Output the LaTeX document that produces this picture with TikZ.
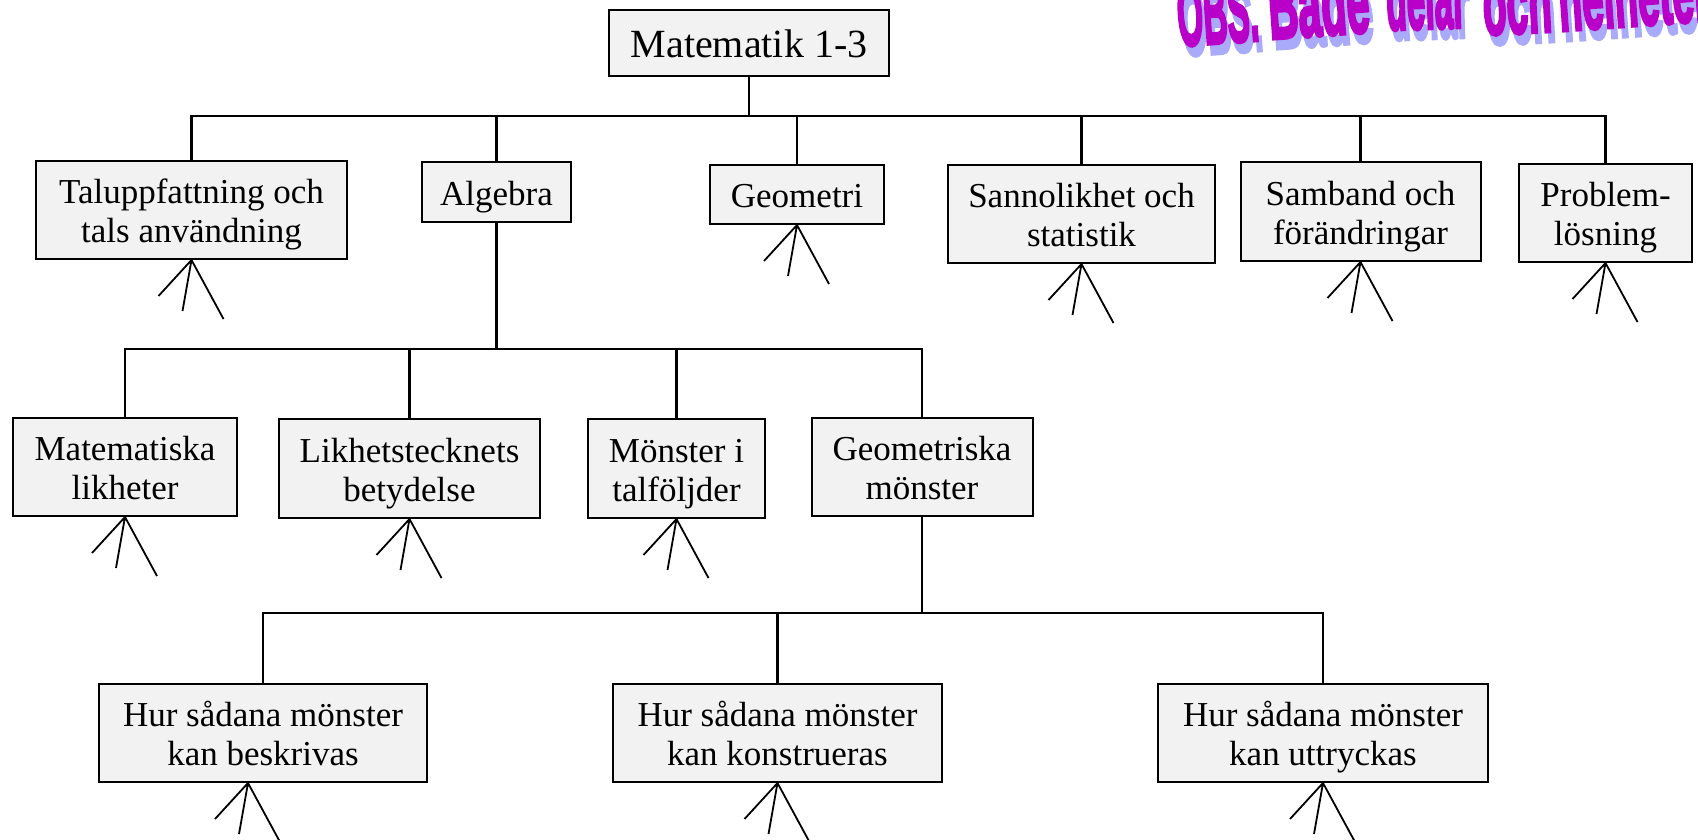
\documentclass[tikz,border=0pt]{standalone}
\usepackage{fontspec}
\usepackage{graphicx}
\setmainfont{Liberation Serif}
\newfontfamily\wafont{Liberation Sans}[BoldFeatures={FakeBold=4}]
\definecolor{boxfill}{HTML}{F2F2F2}
\definecolor{wamag}{HTML}{B800C8}
\definecolor{washadow}{HTML}{AAAAFA}
\tikzset{
  box/.style={draw=black, line width=2pt, fill=boxfill, inner sep=0pt,
    font=\fontsize{35}{39}\selectfont, text=black, text height=35pt, text depth=9pt},
  twoline/.style={text height=74pt, text depth=9pt},
  conn/.style={draw=black, line width=2.2pt, line join=miter},
  forkline/.style={draw=black, line width=1.8pt},
  wa/.style={anchor=base west, inner sep=0pt, font=\wafont\bfseries\fontsize{90}{90}\selectfont},
}
\newcommand{\tl}[2]{\vbox{\halign{\hfil##\hfil\cr #1\cr #2\cr}}}
\newcommand{\fork}[1]{\draw[forkline] (#1) -- ++(-33,36) (#1) -- ++(-9,51) (#1) -- ++(32,59);}
\newcommand{\waword}[6]{%
  \node[wa, text=washadow, rotate=#4] (#1s) at (#2+4,#3+10) {\scalebox{#6}[1]{#5}};
  \node[wa, text=wamag, rotate=#4] (#1) at (#2,#3) {\scalebox{#6}[1]{#5}};}
\begin{document}
\begin{tikzpicture}[x=1pt,y=-1pt]
\clip (0,0) rectangle (1698,840);
\fill[white] (0,0) rectangle (1698,840);

% WordArt
\waword{wa1}{1179}{46}{4}{OBS.}{0.37}
\waword{wa2}{1270}{39}{4}{Både}{0.46}
\waword{wa3}{1387}{30}{2}{delar}{0.37}
\waword{wa4}{1484}{35}{3}{och}{0.43}
\waword{wa5}{1560}{31}{4}{helheten}{0.43}

% top
\node[box, minimum width=280, minimum height=66, font=\fontsize{40}{44}\selectfont,
  text height=40pt, text depth=10pt] (top) at (749,43) {Matematik 1-3};

% level 1
\node[box, twoline, minimum width=311, minimum height=98] (tal) at (191.5,210) {\tl{Taluppfattning och}{tals användning}};
\node[box, minimum width=149, minimum height=60] (alg) at (496.5,192) {Algebra};
\node[box, minimum width=174, minimum height=59] (geo) at (797,194.5) {Geometri};
\node[box, twoline, minimum width=267, minimum height=98] (san) at (1081.5,214) {\tl{Sannolikhet och}{statistik}};
\node[box, twoline, minimum width=240, minimum height=99] (sam) at (1360.5,211.5) {\tl{Samband och}{förändringar}};
\node[box, twoline, minimum width=173, minimum height=98] (pro) at (1605.5,213) {\tl{Problem-}{lösning}};

% level 2
\node[box, twoline, minimum width=224, minimum height=98] (mat) at (125,467) {\tl{Matematiska}{likheter}};
\node[box, twoline, minimum width=261, minimum height=99] (lik) at (409.5,468.5) {\tl{Likhetstecknets}{betydelse}};
\node[box, twoline, minimum width=177, minimum height=99] (mon) at (676.5,468.5) {\tl{Mönster i}{talföljder}};
\node[box, twoline, minimum width=221, minimum height=98] (gms) at (922,467) {\tl{Geometriska}{mönster}};

% level 3
\node[box, twoline, minimum width=328, minimum height=98] (hb) at (263,733) {\tl{Hur sådana mönster}{kan beskrivas}};
\node[box, twoline, minimum width=329, minimum height=98] (hk) at (777.5,733) {\tl{Hur sådana mönster}{kan konstrueras}};
\node[box, twoline, minimum width=330, minimum height=98] (hu) at (1323,733) {\tl{Hur sådana mönster}{kan uttryckas}};

% buses
\coordinate (b1) at (749,116);
\coordinate (b2) at (496.5,349);
\coordinate (b3) at (922,613);

\draw[conn] (top.south) -- (b1);
\foreach \n in {tal,alg,geo,san,sam,pro} \draw[conn] (b1) -| (\n.north);
\draw[conn] (alg.south) -- (b2);
\foreach \n in {mat,lik,mon,gms} \draw[conn] (b2) -| (\n.north);
\draw[conn] (gms.south) -- (b3);
\foreach \n in {hb,hk,hu} \draw[conn] (b3) -| (\n.north);

% forks
\fork{tal.south}
\fork{geo.south}
\fork{san.south}
\fork{sam.south}
\fork{pro.south}
\fork{mat.south}
\fork{lik.south}
\fork{mon.south}
\fork{[xshift=-15pt]hb.south}
\fork{hk.south}
\fork{hu.south}
\end{tikzpicture}
\end{document}
